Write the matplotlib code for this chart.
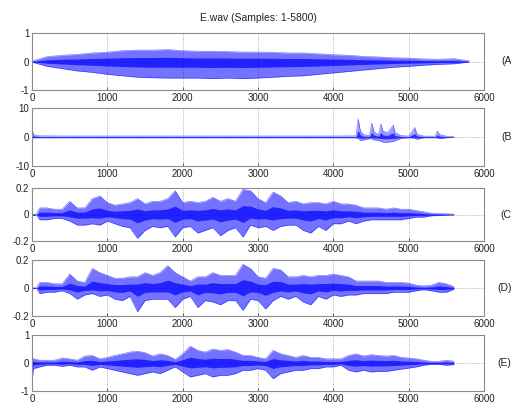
import matplotlib
matplotlib.use("Agg")
import matplotlib.pyplot as plt
import numpy as np

plt.rcParams["font.family"] = ["Liberation Sans", "DejaVu Sans"]

TITLE = "E.wav (Samples: 1-5800)"
PANEL_TAGS = ["(A", "(B", "(C", "(D)", "(E)"]
X_TICKS = [0, 1000, 2000, 3000, 4000, 5000, 6000]

# envelopes (upper / lower peak per position)
A_SAMPLES = list(range(0, 5801, 200))
A_UPPER = [0.02, 0.17, 0.22, 0.25, 0.30, 0.33, 0.38, 0.40, 0.40, 0.42,
           0.38, 0.36, 0.36, 0.35, 0.33, 0.33, 0.32, 0.30, 0.30, 0.27,
           0.24, 0.22, 0.18, 0.16, 0.13, 0.12, 0.09, 0.08, 0.10, 0.02]
A_LOWER = [-0.02, -0.17, -0.25, -0.33, -0.38, -0.45, -0.50, -0.55, -0.57, -0.58,
           -0.58, -0.58, -0.60, -0.58, -0.60, -0.58, -0.55, -0.52, -0.50, -0.45,
           -0.40, -0.35, -0.30, -0.25, -0.20, -0.17, -0.13, -0.10, -0.08, -0.02]

B_SAMPLES = [0, 20, 100, 500, 1000, 1500, 2000, 2500, 3000, 3500, 4000, 4300,
             4330, 4360, 4400, 4480, 4510, 4540, 4600, 4630, 4660, 4720, 4795,
             4820, 4900, 5000, 5080, 5110, 5200, 5350, 5380, 5410, 5500, 5600]
B_UPPER = [2.7, 0.8, 0.4, 0.35, 0.35, 0.35, 0.35, 0.35, 0.35, 0.35, 0.35, 0.4,
           6.3, 2.0, 0.8, 0.5, 4.8, 1.8, 0.8, 4.5, 2.0, 1.5, 4.1,
           1.5, 0.5, 0.3, 3.3, 1.0, 0.3, 0.3, 2.1, 0.8, 0.3, 0.1]
B_LOWER = [-0.3, -0.3, -0.3, -0.3, -0.3, -0.3, -0.3, -0.3, -0.3, -0.3, -0.3, -0.3,
           -0.5, -1.2, -1.0, -0.6, -0.6, -1.0, -1.2, -1.5, -1.8, -1.8, -1.5,
           -1.2, -0.5, -0.3, -0.4, -0.8, -0.3, -0.3, -0.3, -0.6, -0.3, -0.1]

C_SAMPLES = [0, 60] + list(range(100, 5301, 100)) + [5600]
C_UPPER = [0.002, 0.002,
           0.05, 0.05, 0.04, 0.04, 0.10, 0.05, 0.05, 0.12, 0.14, 0.09,
           0.07, 0.08, 0.09, 0.12, 0.08, 0.10, 0.10, 0.12, 0.18, 0.09,
           0.10, 0.09, 0.10, 0.13, 0.10, 0.12, 0.10, 0.19, 0.18, 0.12,
           0.09, 0.17, 0.14, 0.09, 0.10, 0.08, 0.09, 0.09, 0.08, 0.10,
           0.08, 0.08, 0.07, 0.05, 0.05, 0.05, 0.04, 0.05, 0.04, 0.04,
           0.03, 0.02, 0.01, 0.003]
C_LOWER = [-0.002, -0.002,
           -0.04, -0.04, -0.03, -0.03, -0.05, -0.08, -0.08, -0.07, -0.08, -0.05,
           -0.07, -0.09, -0.10, -0.18, -0.12, -0.09, -0.10, -0.09, -0.17, -0.10,
           -0.09, -0.14, -0.12, -0.10, -0.16, -0.12, -0.10, -0.17, -0.08, -0.10,
           -0.09, -0.12, -0.09, -0.08, -0.08, -0.12, -0.14, -0.09, -0.12, -0.07,
           -0.07, -0.05, -0.07, -0.05, -0.04, -0.04, -0.04, -0.04, -0.04, -0.03,
           -0.02, -0.02, -0.01, -0.003]

D_SAMPLES = [0, 60] + list(range(100, 5601, 100))
D_UPPER = [0.002, 0.002,
           0.04, 0.04, 0.03, 0.03, 0.10, 0.05, 0.04, 0.14, 0.11, 0.09,
           0.07, 0.07, 0.08, 0.08, 0.11, 0.09, 0.11, 0.16, 0.11, 0.08,
           0.05, 0.08, 0.08, 0.11, 0.09, 0.09, 0.09, 0.17, 0.14, 0.08,
           0.07, 0.14, 0.13, 0.08, 0.08, 0.09, 0.08, 0.09, 0.09, 0.10,
           0.09, 0.08, 0.05, 0.05, 0.05, 0.05, 0.04, 0.04, 0.04, 0.035,
           0.02, 0.015, 0.02, 0.04, 0.03, 0.01]
D_LOWER = [-0.002, -0.002,
           -0.04, -0.03, -0.03, -0.02, -0.04, -0.08, -0.05, -0.04, -0.06, -0.05,
           -0.08, -0.09, -0.06, -0.17, -0.09, -0.08, -0.08, -0.08, -0.14, -0.08,
           -0.06, -0.14, -0.09, -0.10, -0.12, -0.09, -0.09, -0.16, -0.08, -0.09,
           -0.15, -0.09, -0.06, -0.08, -0.06, -0.10, -0.12, -0.06, -0.08, -0.05,
           -0.06, -0.05, -0.05, -0.04, -0.04, -0.04, -0.04, -0.03, -0.03, -0.03,
           -0.02, -0.012, -0.02, -0.03, -0.03, -0.01]

E_SAMPLES = [0, 20] + list(range(100, 5601, 100))
E_UPPER = [0.2, 0.15,
           0.10, 0.10, 0.10, 0.18, 0.15, 0.10, 0.25, 0.27, 0.15, 0.20,
           0.27, 0.33, 0.39, 0.42, 0.37, 0.25, 0.33, 0.27, 0.13, 0.33,
           0.60, 0.45, 0.39, 0.50, 0.45, 0.48, 0.39, 0.27, 0.27, 0.20,
           0.15, 0.45, 0.33, 0.27, 0.20, 0.27, 0.20, 0.20, 0.15, 0.15,
           0.15, 0.27, 0.33, 0.25, 0.30, 0.27, 0.25, 0.27, 0.20, 0.18,
           0.15, 0.10, 0.06, 0.06, 0.10, 0.06]
E_LOWER = [-0.63, -0.2,
           -0.14, -0.08, -0.08, -0.12, -0.08, -0.14, -0.14, -0.26, -0.14, -0.20,
           -0.26, -0.32, -0.38, -0.44, -0.38, -0.32, -0.38, -0.26, -0.14, -0.32,
           -0.50, -0.44, -0.38, -0.50, -0.44, -0.44, -0.38, -0.26, -0.26, -0.20,
           -0.26, -0.56, -0.38, -0.32, -0.26, -0.26, -0.20, -0.20, -0.14, -0.14,
           -0.08, -0.26, -0.32, -0.26, -0.32, -0.30, -0.30, -0.26, -0.22, -0.18,
           -0.14, -0.08, -0.05, -0.05, -0.08, -0.06]

PANELS = [
    (A_SAMPLES, A_UPPER, A_LOWER, 1),
    (B_SAMPLES, B_UPPER, B_LOWER, 10),
    (C_SAMPLES, C_UPPER, C_LOWER, 0.2),
    (D_SAMPLES, D_UPPER, D_LOWER, 0.2),
    (E_SAMPLES, E_UPPER, E_LOWER, 1),
]

# axes boxes in pixels (top, bottom) on a 511x403 canvas
BOXES = [(33, 90), (108, 166), (188, 241), (260, 316), (335, 391)]
TAG_X = [501, 501, 500, 497, 497]

W, H = 511, 403
fig = plt.figure(figsize=(W / 100, H / 100), dpi=100)
fig.patch.set_facecolor("white")

for i, (xs, hi, lo, lim) in enumerate(PANELS):
    top, bot = BOXES[i]
    ax = fig.add_axes([32 / W, 1 - bot / H, 452 / W, (bot - top) / H])
    xs = np.asarray(xs, dtype=float)
    hi = np.asarray(hi)
    lo = np.asarray(lo)
    alpha = 0.4 if i == 1 else 0.55
    ax.fill_between(xs, lo, hi, color="#0000ff", alpha=alpha, linewidth=0)
    # denser core of the trace
    ax.fill_between(xs, lo * 0.35, hi * 0.35, color="#0000ff", alpha=0.7, linewidth=0)
    ax.plot(xs, hi, color="#0000ff", lw=0.4, alpha=0.6)
    ax.plot(xs, lo, color="#0000ff", lw=0.4, alpha=0.6)

    ax.set_xlim(0, 6000)
    ax.set_ylim(-lim, lim)
    ax.set_xticks(X_TICKS)
    ax.set_yticks([-lim, 0, lim])
    ax.set_yticklabels([f"{-lim:g}", "0", f"{lim:g}"])
    ax.grid(True, color="#9a9a9a", linestyle=":", linewidth=0.6)
    ax.set_axisbelow(True)
    ax.tick_params(direction="in", length=2.5, width=0.5, labelsize=7,
                   colors="#222222", pad=2)
    for s in ax.spines.values():
        s.set_color("#8c8c8c")
        s.set_linewidth(0.8)

    fig.text(TAG_X[i] / W, 1 - (top + bot) / 2 / H, PANEL_TAGS[i],
             fontsize=7.5, ha="left", va="center", color="#222222")

fig.text(258 / W, 1 - 18 / H, TITLE, fontsize=7.5, ha="center", va="center",
         color="#222222")

fig.savefig("out.png", dpi=100)
